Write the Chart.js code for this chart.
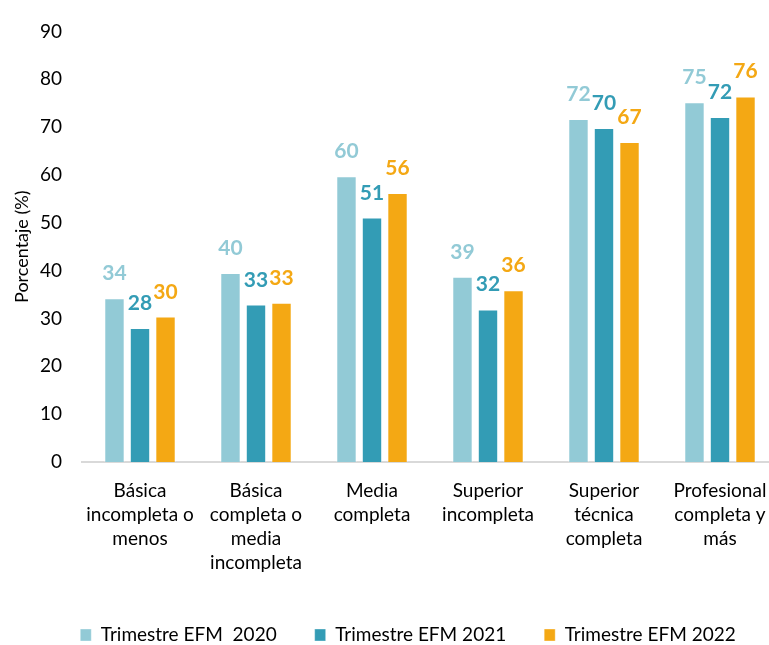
<!DOCTYPE html>
<html lang="es">
<head>
<meta charset="utf-8">
<title>Porcentaje por nivel educacional</title>
<script src="https://cdn.jsdelivr.net/npm/chart.js@4.4.0/dist/chart.umd.min.js"></script>
<style>
    html, body { margin: 0; padding: 0; background: #ffffff; overflow: hidden; }
    #wrap { width: 820px; height: 645px; }
</style>
</head>
<body>
<div id="wrap"><canvas id="barras"></canvas></div>
<script>
var categorias = [
    ["Básica", "incompleta o", "menos"],
    ["Básica", "completa o", "media", "incompleta"],
    ["Media", "completa"],
    ["Superior", "incompleta"],
    ["Superior", "técnica", "completa"],
    ["Profesional", "completa y", "más"]
];
var nombresSeries = ["Trimestre EFM  2020", "Trimestre EFM 2021", "Trimestre EFM 2022"];
var serie2020 = [34.2, 39.5, 59.7, 38.7, 71.7, 75.2];
var serie2021 = [28.0, 32.9, 51.1, 31.9, 69.8, 72.1];
var serie2022 = [30.4, 33.3, 56.2, 35.9, 66.9, 76.4];
var ejeMin = 0;
var ejeMax = 90;
var ejePaso = 10;

var colores = ["#92CAD6", "#339CB5", "#F4A814"];
var fuente = "Lato, 'Open Sans', sans-serif";

// etiquetas de valor encima de cada barra
var etiquetasValor = {
    id: 'etiquetasValor',
    afterDatasetsDraw: function (chart) {
        var ctx = chart.ctx;
        ctx.save();
        ctx.font = "bold 21px " + fuente;
        ctx.textAlign = "center";
        ctx.textBaseline = "alphabetic";
        chart.data.datasets.forEach(function (ds, i) {
            var meta = chart.getDatasetMeta(i);
            ctx.fillStyle = ds.backgroundColor;
            meta.data.forEach(function (bar, j) {
                ctx.fillText(Math.round(ds.data[j]), bar.x, bar.y - 18);
            });
        });
        ctx.restore();
    }
};

// mover la leyenda al lugar que tiene en el original
var moverLeyenda = {
    id: 'moverLeyenda',
    afterLayout: function (chart) {
        var lg = chart.legend;
        if (!lg) return;
        var pad = chart.options.plugins.legend.labels.padding;
        var dx = 408 - (lg.left + lg.right) / 2;
        lg.left += dx;
        lg.right += dx;
        var top = 635 - pad - 9.5;
        var h = lg.bottom - lg.top;
        lg.top = top;
        lg.bottom = top + h;
    }
};

new Chart(document.getElementById("barras"), {
    type: 'bar',
    data: {
        labels: categorias,
        datasets: [
            { label: nombresSeries[0], data: serie2020, backgroundColor: colores[0] },
            { label: nombresSeries[1], data: serie2021, backgroundColor: colores[1] },
            { label: nombresSeries[2], data: serie2022, backgroundColor: colores[2] }
        ]
    },
    options: {
        responsive: true,
        maintainAspectRatio: false,
        animation: false,
        layout: { padding: { top: 22, right: 42, left: 0, bottom: 0 } },
        datasets: {
            bar: {
                categoryPercentage: 0.66,
                barPercentage: 0.8,
                borderWidth: 1,
                borderColor: 'rgba(255,255,255,0.35)'
            }
        },
        plugins: {
            legend: {
                position: 'bottom',
                labels: {
                    boxWidth: 11,
                    boxHeight: 12,
                    padding: 38,
                    color: '#000000',
                    font: { family: fuente, size: 19 }
                }
            },
            tooltip: { enabled: false }
        },
        scales: {
            x: {
                grid: { display: false, drawTicks: false },
                border: { display: true, color: '#D9D9D9', width: 2 },
                ticks: {
                    autoSkip: false,
                    maxRotation: 0,
                    padding: 17,
                    color: '#000000',
                    font: { family: fuente, size: 19, lineHeight: 24 / 19 }
                },
                afterFit: function (s) {
                    var lh = s.chart.legend ? s.chart.legend.height : 0;
                    s.height = 645 - 462 - lh;
                }
            },
            y: {
                min: ejeMin,
                max: ejeMax,
                grid: { display: false, drawTicks: false },
                border: { display: false },
                ticks: {
                    stepSize: ejePaso,
                    padding: 20,
                    color: '#000000',
                    font: { family: fuente, size: 19 }
                },
                title: {
                    display: true,
                    text: 'Porcentaje (%)',
                    color: '#000000',
                    padding: { top: 11, bottom: 0 },
                    font: { family: fuente, size: 18 }
                },
                afterFit: function (s) {
                    s.width = 82;
                }
            }
        }
    },
    plugins: [etiquetasValor, moverLeyenda]
});
</script>
</body>
</html>
